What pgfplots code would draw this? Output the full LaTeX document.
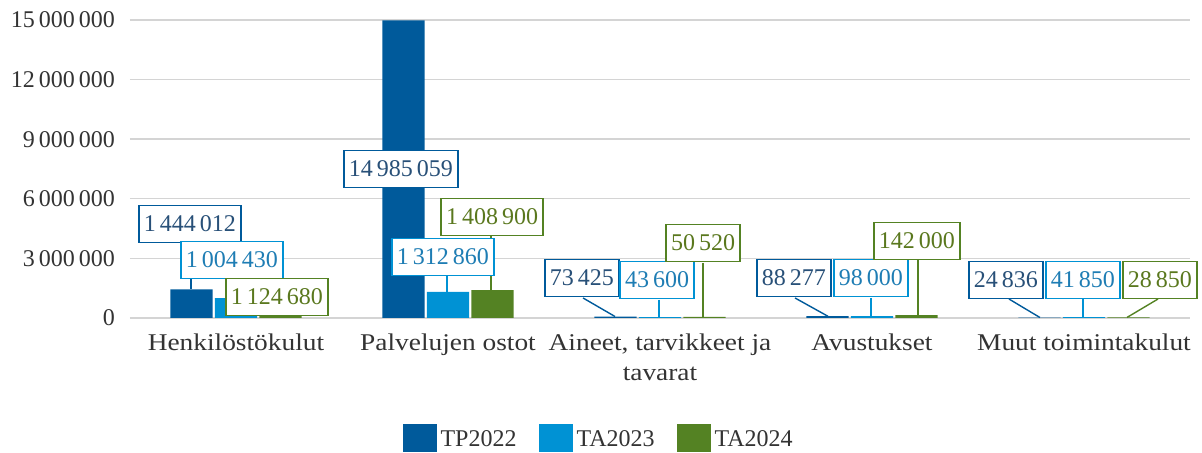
\documentclass[border=0pt]{standalone}
\usepackage{fontspec}
\setmainfont{Liberation Serif}
\newfontfamily\widefont[FakeStretch=1.14]{Liberation Serif}
\usepackage{pgfplots}
\pgfplotsset{compat=1.18}
\definecolor{cA}{RGB}{0,90,155}
\definecolor{cB}{RGB}{0,146,212}
\definecolor{cC}{RGB}{84,130,35}
\definecolor{tA}{RGB}{40,80,120}
\definecolor{tB}{RGB}{30,125,180}
\definecolor{tC}{RGB}{90,120,30}
\newcommand\fnt{\fontsize{12}{14.5}\selectfont}
\tikzset{lab/.style={draw=#1, fill=white, line width=0.75pt, inner xsep=2.5pt, inner ysep=0pt, minimum height=18.5pt, font=\fnt}}
\begin{document}
\begin{tikzpicture}
\begin{axis}[
  scale only axis, width=530pt, height=149pt,
  xmin=-0.5, xmax=4.5, ymin=0, ymax=15000000,
  clip=false,
  axis line style={draw=none},
  major tick length=0pt,
  ymajorgrids, grid style={draw=black!17, line width=0.7pt},
  ytick={0,3000000,6000000,9000000,12000000,15000000},
  yticklabels={0,3\,000\,000,6\,000\,000,9\,000\,000,12\,000\,000,15\,000\,000},
  scaled y ticks=false,
  xtick={0,1,2,3,4},
  xticklabels={Henkilöstökulut,Palvelujen ostot,{Aineet, tarvikkeet ja\\tavarat},Avustukset,Muut toimintakulut},
  yticklabel style={font=\fnt, text=black!80, xshift=-4pt},
  xticklabel style={font=\widefont\fontsize{12}{15}\selectfont, text=black!80, align=center, yshift=-4.5pt},
  legend style={at={(0.443,-0.405)}, anchor=center, draw=none, font=\fnt, legend columns=3,
    /tikz/every even column/.append style={column sep=9pt}, text=black!80},
]
\addplot[ybar, bar width=0.2, bar shift=-0.21, fill=cA, draw=none,
  legend image code/.code={\fill[cA] (0pt,-6pt) rectangle (17pt,8pt);}]
  coordinates {(0,1444012) (1,14985059) (2,73425) (3,88277) (4,24836)};
\addlegendentry{TP2022}
\addplot[ybar, bar width=0.2, bar shift=0, fill=cB, draw=none,
  legend image code/.code={\fill[cB] (0pt,-6pt) rectangle (17pt,8pt);}]
  coordinates {(0,1004430) (1,1312860) (2,43600) (3,98000) (4,41850)};
\addlegendentry{TA2023}
\addplot[ybar, bar width=0.2, bar shift=0.21, fill=cC, draw=none,
  legend image code/.code={\fill[cC] (0pt,-6pt) rectangle (17pt,8pt);}]
  coordinates {(0,1124680) (1,1408900) (2,50520) (3,142000) (4,28850)};
\addlegendentry{TA2024}
% leader lines
\draw[cA, line width=0.7pt] (axis cs:-0.212,2420000) -- (axis cs:-0.212,1444012);
\draw[cB, line width=0.7pt] (axis cs:0.995,2160000) -- (axis cs:0.995,1312860);
\draw[cC, line width=0.7pt] (axis cs:1.203,4130000) -- (axis cs:1.203,1408900);
\draw[cA, line width=0.7pt] (axis cs:1.637,1007000) -- (axis cs:1.788,73425);
\draw[cB, line width=0.7pt] (axis cs:1.995,906000) -- (axis cs:1.995,43600);
\draw[cC, line width=0.7pt] (axis cs:2.203,2770000) -- (axis cs:2.203,50520);
\draw[cA, line width=0.7pt] (axis cs:2.637,1007000) -- (axis cs:2.792,88277);
\draw[cB, line width=0.7pt] (axis cs:2.995,1007000) -- (axis cs:2.995,98000);
\draw[cC, line width=0.7pt] (axis cs:3.217,2920000) -- (axis cs:3.217,142000);
\draw[cA, line width=0.7pt] (axis cs:3.646,956000) -- (axis cs:3.792,24836);
\draw[cB, line width=0.7pt] (axis cs:3.995,956000) -- (axis cs:3.995,41850);
\draw[cC, line width=0.7pt] (axis cs:4.349,956000) -- (axis cs:4.203,28850);
% labels
\node[lab=cA, text=tA] at (axis cs:-0.217,4730000) {1\,444\,012};
\node[lab=cB, text=tB] at (axis cs:-0.019,2920000) {1\,004\,430};
\node[lab=cC, text=tC] at (axis cs:0.193,1057000) {1\,124\,680};
\node[lab=cA, text=tA] at (axis cs:0.778,7500000) {14\,985\,059};
\node[lab=cB, text=tB] at (axis cs:0.976,3070000) {1\,312\,860};
\node[lab=cC, text=tC] at (axis cs:1.208,5080000) {1\,408\,900};
\node[lab=cA, text=tA] at (axis cs:1.632,2010000) {73\,425};
\node[lab=cB, text=tB] at (axis cs:1.986,1910000) {43\,600};
\node[lab=cC, text=tC] at (axis cs:2.203,3775000) {50\,520};
\node[lab=cA, text=tA] at (axis cs:2.632,2010000) {88\,277};
\node[lab=cB, text=tB] at (axis cs:2.995,2010000) {98\,000};
\node[lab=cC, text=tC] at (axis cs:3.212,3876000) {142\,000};
\node[lab=cA, text=tA] at (axis cs:3.632,1910000) {24\,836};
\node[lab=cB, text=tB] at (axis cs:3.995,1910000) {41\,850};
\node[lab=cC, text=tC] at (axis cs:4.358,1910000) {28\,850};
\end{axis}
\pgfresetboundingbox
\path (-65pt,-67.5pt) rectangle (536pt,159pt);
\end{tikzpicture}
\end{document}
